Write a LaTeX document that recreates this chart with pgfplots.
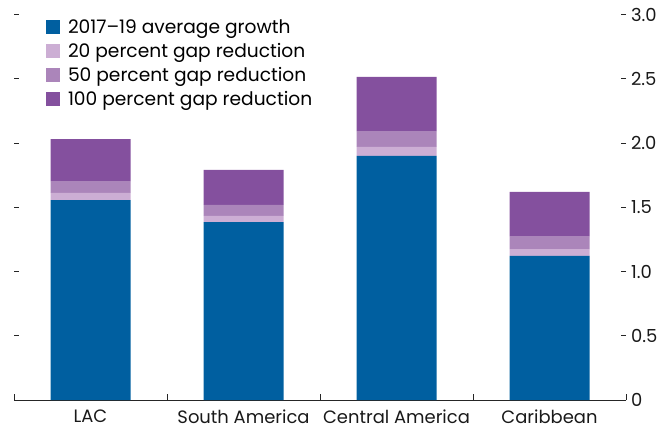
\documentclass[border=0pt]{standalone}
\usepackage{pgfplots}
\pgfplotsset{compat=1.18}
\usepackage{fontspec}
\setmainfont{Poppins}
\definecolor{cblue}{RGB}{0,95,160}
\definecolor{clight}{RGB}{204,174,212}
\definecolor{cmed}{RGB}{171,133,186}
\definecolor{cdark}{RGB}{132,80,158}
\begin{document}
\begin{tikzpicture}
\path[use as bounding box] (-14bp,-29bp) rectangle (657bp,400bp);
\begin{axis}[
  at={(0,0)}, anchor=south west,
  scale only axis, width=612bp, height=385.5bp,
  xmin=-0.5, xmax=3.5, ymin=0, ymax=3,
  ybar stacked, bar width=80bp,
  axis line style={draw=none},
  xtick={0,1,2,3},
  xticklabels={LAC,South America,Central America,Caribbean},
  major x tick style={draw=none},
  minor xtick={-0.5,0.5,1.5,2.5,3.5},
  xtick pos=bottom,
  ytick={0,0.5,1,1.5,2,2.5,3},
  yticklabels={0,0.5,1.0,1.5,2.0,2.5,3.0},
  ytick pos=both, yticklabel pos=right,
  tick align=inside,
  major tick length=5bp, minor tick length=6bp,
  tick style={black!85, line width=0.9bp},
  ticklabel style={font=\fontsize{18}{21}\selectfont, text=black!90},
  yticklabel style={anchor=west, xshift=1.5bp},
  xticklabel style={anchor=north, yshift=-9bp, text depth=0pt, inner ysep=1bp},
  legend style={at={(axis description cs:0.052,0.992)}, anchor=north west, draw=none, fill=none,
    font=\fontsize{18.7}{22}\selectfont, row sep=4.2bp, inner sep=0pt},
  legend cell align=left,
]
\addplot[fill=cblue, draw=none, legend image code/.code={\fill[cblue] (0bp,-7bp) rectangle (14bp,7bp); \path (20bp,0);}]
  coordinates {(0,1.556) (1,1.385) (2,1.899) (3,1.121)};
\addplot[fill=clight, draw=none, legend image code/.code={\fill[clight] (0bp,-7bp) rectangle (14bp,7bp); \path (20bp,0);}]
  coordinates {(0,0.055) (1,0.047) (2,0.070) (3,0.054)};
\addplot[fill=cmed, draw=none, legend image code/.code={\fill[cmed] (0bp,-7bp) rectangle (14bp,7bp); \path (20bp,0);}]
  coordinates {(0,0.093) (1,0.086) (2,0.124) (3,0.101)};
\addplot[fill=cdark, draw=none, legend image code/.code={\fill[cdark] (0bp,-7bp) rectangle (14bp,7bp); \path (20bp,0);}]
  coordinates {(0,0.327) (1,0.272) (2,0.421) (3,0.343)};
\legend{2017--19 average growth,20 percent gap reduction,50 percent gap reduction,100 percent gap reduction}
\draw[black!85, line width=0.9bp] (axis cs:-0.5,0) -- (axis cs:3.5,0);
\end{axis}
\end{tikzpicture}
\end{document}
